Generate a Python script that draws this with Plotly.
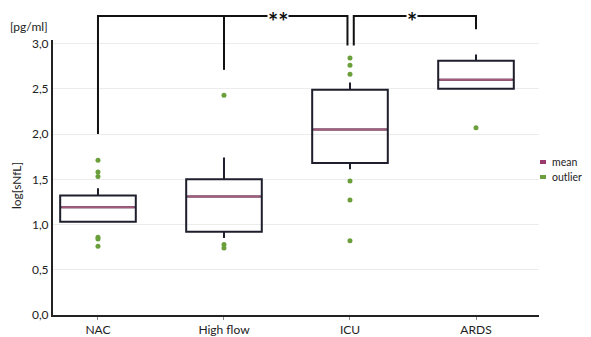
import plotly.graph_objects as go

categories = ["NAC", "High flow", "ICU", "ARDS"]
q1 = [1.03, 0.92, 1.68, 2.50]
q3 = [1.32, 1.50, 2.49, 2.81]
means = [1.19, 1.31, 2.05, 2.60]
lower = [1.03, 0.85, 1.61, 2.50]
upper = [1.40, 1.74, 2.57, 2.88]
outliers = [
    [1.71, 1.58, 1.53, 0.86, 0.84, 0.76],
    [2.43, 0.78, 0.74],
    [2.84, 2.76, 2.66, 1.48, 1.27, 0.82],
    [2.07],
]
legend_labels = ["mean", "outlier"]
y_ticks = [0.0, 0.5, 1.0, 1.5, 2.0, 2.5, 3.0]

YMAX = 3.04
BOXW = 0.6
BOX_COLOR = "#1e1e2c"
MEAN_COLOR = "#a55a7c"
MEAN_LEG_COLOR = "#9b3a6e"
OUT_COLOR = "#6a9f3c"
FONT = "Lato"

# page has an 8px body margin; figure is sized/margined to compensate
OFF = 8
PL, PT, PW, PH = 53, 40, 486, 275  # plot area in page pixels
W, H = 591 - OFF, 337 - OFF


def px_x(p):  # page x pixel -> paper x
    return (p - PL) / PW


def px_y(p):  # page y pixel -> paper y
    return (PT + PH - p) / PH


fig = go.Figure()
xs = list(range(len(categories)))

for i in xs:
    fig.add_trace(go.Box(
        x=[i], q1=[q1[i]], median=[means[i]], q3=[q3[i]],
        lowerfence=[lower[i]], upperfence=[upper[i]],
        width=BOXW, whiskerwidth=0, boxpoints=False,
        line=dict(color=BOX_COLOR, width=2),
        fillcolor="rgba(255,255,255,0)", showlegend=False, hoverinfo="skip",
    ))

for i in xs:
    fig.add_trace(go.Scatter(
        x=[i - BOXW / 2 + 0.01, i + BOXW / 2 - 0.01], y=[means[i], means[i]],
        mode="lines", line=dict(color=MEAN_COLOR, width=2),
        showlegend=False, hoverinfo="skip",
    ))

ox, oy = [], []
for i in xs:
    ox += [i] * len(outliers[i])
    oy += outliers[i]
fig.add_trace(go.Scatter(
    x=ox, y=oy, mode="markers",
    marker=dict(color=OUT_COLOR, size=5), showlegend=False, hoverinfo="skip",
))


def py(v):
    return v / YMAX


TOP = px_y(16)
line_style = dict(color="#111111", width=2)
shapes = [
    dict(type="path", xref="x", yref="paper",
         path=f"M 0 {py(2.0)} L 0 {TOP} L 1.98 {TOP} L 1.98 {py(2.98)}",
         line=line_style),
    dict(type="line", xref="x", yref="paper", x0=1, x1=1, y0=TOP, y1=py(2.71),
         line=line_style),
    dict(type="path", xref="x", yref="paper",
         path=f"M 2.03 {py(2.98)} L 2.03 {TOP} L 3 {TOP} L 3 {py(3.16)}",
         line=line_style),
]

annotations = [
    dict(x=1.425, y=TOP, xref="x", yref="paper", text="<b>**</b>", showarrow=False,
         font=dict(size=24, color="#111111", family=FONT), bgcolor="white",
         xanchor="center", yanchor="middle", yshift=-5, borderpad=0),
    dict(x=2.49, y=TOP, xref="x", yref="paper", text="<b>*</b>", showarrow=False,
         font=dict(size=24, color="#111111", family=FONT), bgcolor="white",
         xanchor="center", yanchor="middle", yshift=-5, borderpad=0),
    dict(x=px_x(29), y=px_y(27), xref="paper", yref="paper",
         text="[pg/ml]", showarrow=False, xanchor="center", yanchor="middle",
         font=dict(size=12, color="#222222", family=FONT)),
    dict(x=px_x(16), y=px_y(186), xref="paper", yref="paper",
         text="log[sNfL]", showarrow=False, textangle=-90,
         xanchor="center", yanchor="middle",
         font=dict(size=12, color="#222222", family=FONT)),
]

# manual legend
leg_colors = [MEAN_LEG_COLOR, OUT_COLOR]
leg_ys = [162, 177]
for lab, col, ly in zip(legend_labels, leg_colors, leg_ys):
    shapes.append(dict(type="rect", xref="paper", yref="paper",
                       x0=px_x(540), x1=px_x(546), y0=px_y(ly + 2), y1=px_y(ly - 2),
                       fillcolor=col, line=dict(width=0)))
    annotations.append(dict(x=px_x(550), y=px_y(ly), xref="paper", yref="paper",
                            text=lab, showarrow=False, xanchor="left",
                            yanchor="middle",
                            font=dict(size=10.5, color="#222222", family=FONT)))

fig.update_layout(
    width=W, height=H,
    margin=dict(l=PL - OFF, r=W - (PL - OFF) - PW, t=PT - OFF, b=H - (PT - OFF) - PH),
    plot_bgcolor="white", paper_bgcolor="white",
    separators=",.",
    font=dict(family=FONT, size=12, color="#222222"),
    shapes=shapes, annotations=annotations,
    showlegend=False,
    xaxis=dict(range=[-0.357, 3.5], tickvals=xs, ticktext=categories,
               showline=True, linecolor="#222222", linewidth=2,
               ticks="outside", ticklen=3, tickcolor="#888888",
               showgrid=False, zeroline=False, automargin=False,
               tickfont=dict(size=12, family=FONT, color="#222222")),
    yaxis=dict(range=[0, YMAX], tickvals=y_ticks, tickformat=".1f",
               showline=True, linecolor="#222222", linewidth=2,
               showgrid=True, gridcolor="#ececec", gridwidth=1,
               zeroline=False, ticks="", automargin=False,
               tickfont=dict(size=12, family=FONT, color="#222222")),
)

fig.write_html("out.html",
               post_script="document.body.style.overflow='hidden';")
